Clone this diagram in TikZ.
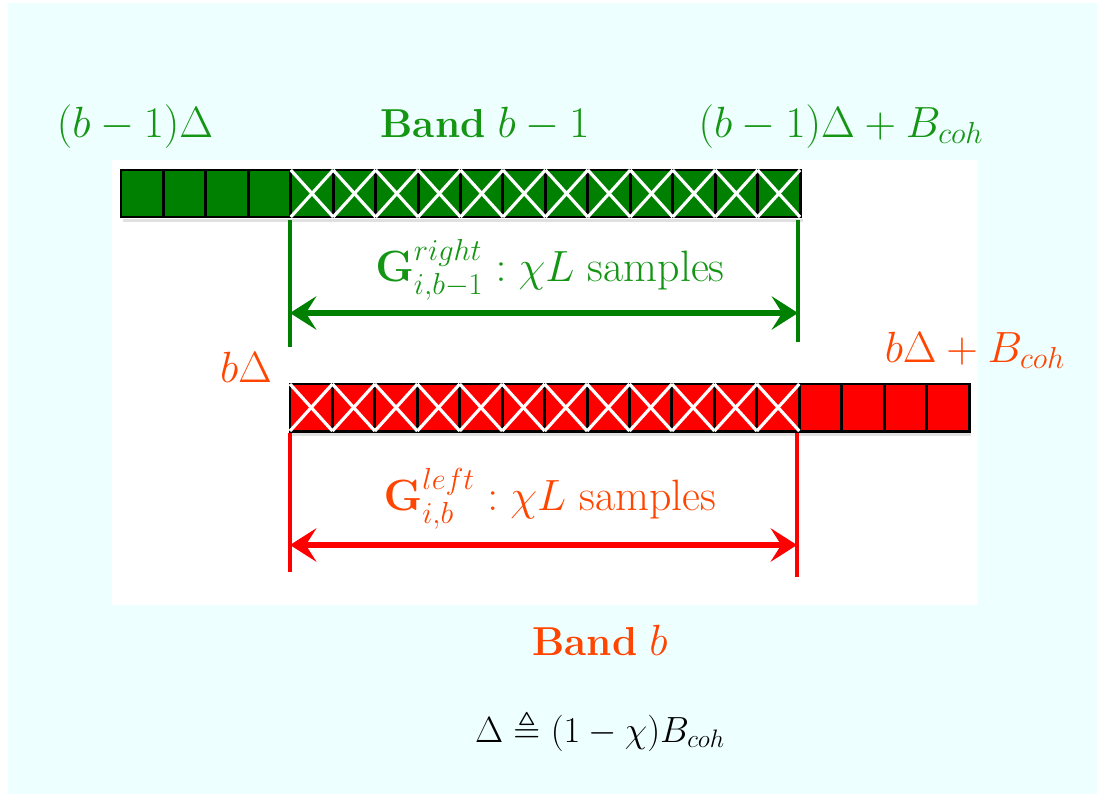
\documentclass[tikz,border=0pt]{standalone}
\usepackage{amsmath}
\usepackage{amssymb}
\usepackage{tikz}
\usetikzlibrary{arrows.meta}
\usepackage{xcolor}

\definecolor{bgcyan}{RGB}{238,255,255}
\definecolor{bandgreen}{RGB}{0,128,0}
\definecolor{textgreen}{RGB}{20,150,20}
\definecolor{bandred}{RGB}{255,0,0}
\definecolor{textred}{RGB}{255,69,0}

\begin{document}
\begin{tikzpicture}[x=0.02cm, y=-0.02cm,
        lbl/.style={font=\fontsize{23}{28}\selectfont, inner sep=0pt, anchor=base},
        biglbl/.style={lbl, font=\fontsize{25}{30}\selectfont},
        smalllbl/.style={lbl, font=\fontsize{20}{24}\selectfont},
        cellbox/.style={draw=black, line width=1.7pt},
        xmark/.style={draw=white, line width=1.8pt},
        shade/.style={fill=black, opacity=0.12},
        tickline/.style={line width=2.5pt},
        spanarrow/.style={line width=3pt,
            {Stealth[length=15pt, width=19pt, inset=6pt]}-{Stealth[length=15pt, width=19pt, inset=6pt]}}]

        % 1. Page and backgrounds
        \useasboundingbox (0,0) rectangle (1097,794);
        \fill[bgcyan] (8,3) rectangle (1097,794);
        \fill[white] (112,160) rectangle (978,605);

        % faint shadows under the bars
        \fill[shade] (123,219) rectangle (803,222);
        \fill[shade] (292,433) rectangle (971,436);

        % 2. Band b-1 (green): 4 plain cells, then 12 overlapping cells
        \pgfmathsetmacro{\cw}{42.44} % cell width
        \foreach \i in {0,...,15} {
            \draw[cellbox, fill=bandgreen] ({121+\cw*\i},170) rectangle ++(\cw,47);
        }
        \foreach \i in {4,...,15} {
            \draw[xmark] ({121+\cw*\i},170) -- ++(\cw,47);
            \draw[xmark] ({121+\cw*\i},217) -- ++(\cw,-47);
        }

        % 3. Band b (red): 12 overlapping cells, then 4 plain cells
        \foreach \i in {0,...,15} {
            \draw[cellbox, fill=bandred] ({290+\cw*\i},384) rectangle ++(\cw,47);
        }
        \foreach \i in {0,...,11} {
            \draw[xmark] ({290+\cw*\i},384) -- ++(\cw,47);
            \draw[xmark] ({290+\cw*\i},431) -- ++(\cw,-47);
        }

        % 4. Marker coordinates
        \coordinate (gTopL) at (290,220);
        \coordinate (gBotL) at (290,347);
        \coordinate (gTopR) at (798,220);
        \coordinate (gBotR) at (798,342);
        \coordinate (gArrL) at (290,313);
        \coordinate (gArrR) at (798,313);

        \coordinate (rTopL) at (290,433);
        \coordinate (rBotL) at (290,572);
        \coordinate (rTopR) at (797,433);
        \coordinate (rBotR) at (797,577);
        \coordinate (rArrL) at (290,545);
        \coordinate (rArrR) at (797,545);

        % 5. Overlap spans
        \draw[tickline, bandgreen] (gTopL) -- (gBotL);
        \draw[tickline, bandgreen] (gTopR) -- (gBotR);
        \draw[spanarrow, bandgreen] (gArrL) -- (gArrR);

        \draw[tickline, bandred] (rTopL) -- (rBotL);
        \draw[tickline, bandred] (rTopR) -- (rBotR);
        \draw[spanarrow, bandred] (rArrL) -- (rArrR);

        % 6. Labels
        \node[lbl, textgreen] (startG) at (135,137) {$(b-1)\Delta$};
        \node[lbl, textgreen] (nameG) at (485,137) {\textbf{Band} $b-1$};
        \node[lbl, textgreen] (endG) at (841,137) {$(b-1)\Delta+B_{coh}$};
        \node[biglbl, textgreen] (rightG) at (550,281) {$\mathbf{G}_{i,b-1}^{right} : \chi L$ samples};

        \node[lbl, textred] (startR) at (246,382) {$b\Delta$};
        \node[lbl, textred] (endR) at (975,362) {$b\Delta+B_{coh}$};
        \node[biglbl, textred] (leftR) at (550,510) {$\mathbf{G}_{i,b}^{left} : \chi L$ samples};
        \node[lbl, textred] (nameR) at (600,655) {\textbf{Band} $b$};

        \node[smalllbl, black] (defn) at (600,742) {$\Delta \triangleq (1-\chi)B_{coh}$};

    \end{tikzpicture}
\end{document}
